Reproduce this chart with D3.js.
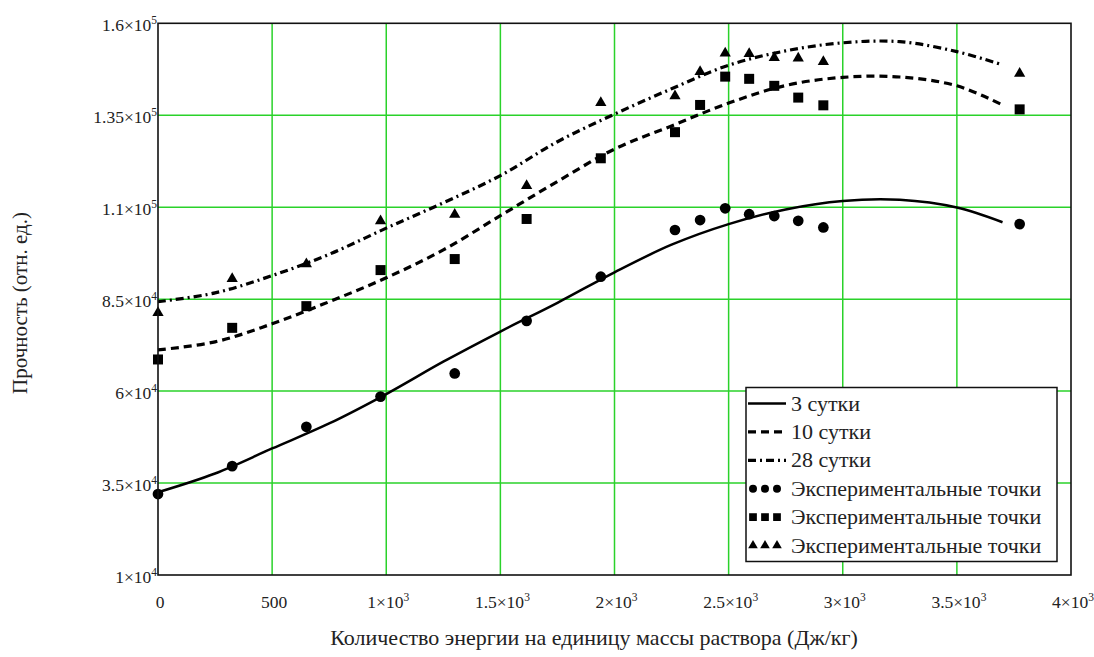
<!DOCTYPE html>
<html><head><meta charset="utf-8">
<script src="https://cdn.jsdelivr.net/npm/d3@7"></script>
<style>html,body{margin:0;padding:0;background:#fff;}</style>
</head><body>
<svg id="chart" width="1094" height="657"></svg>
<script>
// ---- data ----
const xPoints = [0, 325, 650, 975, 1300, 1615, 1940, 2265, 2375, 2485, 2590, 2700, 2805, 2915, 3775];
const points3  = [32000, 39600, 50300, 58500, 64800, 79100, 91100, 103800, 106500, 109700, 108100, 107600, 106300, 104500, 105400];
const points10 = [68600, 77200, 83100, 92900, 95900, 106800, 123300, 130400, 137800, 145500, 144900, 143000, 139800, 137700, 136600];
const points28 = [81600, 90800, 94800, 106500, 108300, 116100, 138700, 140500, 147100, 152100, 152000, 150900, 150800, 149800, 146600];

const xCurve = [0, 250, 500, 750, 1000, 1250, 1500, 1750, 2000, 2250, 2500, 2750, 3000, 3250, 3500, 3700];
const curve3  = [32500, 37600, 44400, 51200, 59200, 68000, 76200, 84000, 92300, 99800, 105400, 109400, 111700, 112000, 109900, 105900];
const curve10 = [71200, 73400, 78300, 84300, 90800, 98400, 107700, 117000, 125800, 132100, 138300, 143100, 145300, 145400, 143000, 137800];
const curve28 = [84300, 86700, 91400, 97200, 104300, 111200, 118600, 127800, 135300, 142200, 148600, 152500, 154700, 155000, 152300, 148700];

const xTicks = [0, 500, 1000, 1500, 2000, 2500, 3000, 3500, 4000];
const xTickLabels = ["0", "500", "1×10^3", "1.5×10^3", "2×10^3", "2.5×10^3", "3×10^3", "3.5×10^3", "4×10^3"];
const yTicks = [10000, 35000, 60000, 85000, 110000, 135000, 160000];
const yTickLabels = ["1×10^4", "3.5×10^4", "6×10^4", "8.5×10^4", "1.1×10^5", "1.35×10^5", "1.6×10^5"];

const legendLabels = ["3 сутки", "10 сутки", "28 сутки", "Экспериментальные точки", "Экспериментальные точки", "Экспериментальные точки"];
const xTitle = "Количество энергии на единицу массы раствора (Дж/кг)";
const yTitle = "Прочность (отн. ед.)";

// ---- layout ----
const FONT = "'Liberation Serif', 'DejaVu Serif', 'Times New Roman', serif";
const svg = d3.select("#chart").append("g").attr("font-family", FONT).style("font-family", FONT);
const L = 158, R = 1071, T = 23.3, B = 575;
const x = d3.scaleLinear().domain([0, 4000]).range([L, R]);
const y = d3.scaleLinear().domain([10000, 160000]).range([B, T]);
const grid = "#2ad22a";

// grid
const gx = svg.append("g");
gx.selectAll("line.vx").data(xTicks.slice(1, -1)).join("line")
  .attr("x1", d => x(d)).attr("x2", d => x(d)).attr("y1", T).attr("y2", B)
  .attr("stroke", grid).attr("stroke-width", 1.5);
gx.selectAll("line.hy").data(yTicks.slice(1, -1)).join("line")
  .attr("y1", d => y(d)).attr("y2", d => y(d)).attr("x1", L).attr("x2", R)
  .attr("stroke", grid).attr("stroke-width", 1.5);

function supLabel(sel, str) {
  const parts = str.split("^");
  sel.append("tspan").text(parts[0]);
  if (parts[1]) sel.append("tspan").attr("font-size", 11.5).attr("dy", -7).text(parts[1]);
}

// x tick labels
xTicks.forEach((t, i) => {
  const tx = svg.append("text").attr("x", x(t) + 2).attr("y", 608)
    .attr("text-anchor", "middle").attr("font-size", 17.5).attr("fill", "#222");
  supLabel(tx, xTickLabels[i]);
});
// y tick labels
yTicks.forEach((t, i) => {
  const ty = svg.append("text").attr("x", 157).attr("y", y(t) + 8)
    .attr("text-anchor", "end").attr("font-size", 17.5).attr("fill", "#222");
  supLabel(ty, yTickLabels[i]);
});

// axis titles
svg.append("text").attr("x", 594).attr("y", 645).attr("text-anchor", "middle")
  .attr("font-size", 22).attr("fill", "#222").text(xTitle);
svg.append("text").attr("transform", "translate(27,303) rotate(-90)").attr("text-anchor", "middle")
  .attr("font-size", 21).attr("fill", "#222").text(yTitle);

// curves
const line = d3.line().x((d, i) => x(xCurve[i])).y(d => y(d)).curve(d3.curveCatmullRom);
const styles = [
  {w: 2.5, dash: null},
  {w: 3.2, dash: "8,5"},
  {w: 3.2, dash: "8,4,2,4"}
];
[curve3, curve10, curve28].forEach((c, k) => {
  svg.append("path").attr("d", line(c)).attr("fill", "none").attr("stroke", "#000")
    .attr("stroke-width", styles[k].w).attr("stroke-dasharray", styles[k].dash);
});

// markers
const symbols = [d3.symbol().type(d3.symbolCircle).size(90),
                 d3.symbol().type(d3.symbolSquare).size(100),
                 d3.symbol().type(d3.symbolTriangle).size(55)];
[points3, points10, points28].forEach((p, k) => {
  svg.append("g").selectAll("path").data(p).join("path")
    .attr("transform", (d, i) => `translate(${x(xPoints[i])},${y(d) + (k === 2 ? 1 : 0)})`)
    .attr("d", symbols[k]()).attr("fill", "#000");
});

// frame
svg.append("rect").attr("x", L).attr("y", T).attr("width", R - L).attr("height", B - T)
  .attr("fill", "none").attr("stroke", "#111").attr("stroke-width", 1.6);

// legend
const lg = svg.append("g");
lg.append("rect").attr("x", 746).attr("y", 387.5).attr("width", 311).attr("height", 174)
  .attr("fill", "#fff").attr("stroke", "#111").attr("stroke-width", 1.5);
legendLabels.forEach((lab, i) => {
  const cy = 403.5 + i * 28.4;
  if (i < 3) {
    lg.append("line").attr("x1", 748).attr("x2", 786).attr("y1", cy).attr("y2", cy)
      .attr("stroke", "#000").attr("stroke-width", styles[i].w).attr("stroke-dasharray", styles[i].dash);
  } else {
    const sym = [d3.symbol().type(d3.symbolCircle).size(50),
                 d3.symbol().type(d3.symbolSquare).size(60),
                 d3.symbol().type(d3.symbolTriangle).size(40)][i - 3];
    [753, 765, 777].forEach(px => {
      lg.append("path").attr("transform", `translate(${px},${cy})`).attr("d", sym()).attr("fill", "#000");
    });
  }
  lg.append("text").attr("x", 791).attr("y", cy + 7).attr("font-size", 22).attr("fill", "#222").text(lab);
});
</script>
</body></html>
